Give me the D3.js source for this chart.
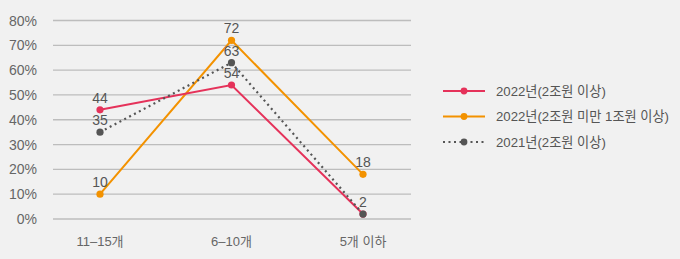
<!DOCTYPE html>
<html>
<head>
<meta charset="utf-8">
<script src="https://cdn.jsdelivr.net/npm/d3@7"></script>
<style>
  body { margin: 0; background: #f1f1f1; }
  text { font-family: "Liberation Sans", "Noto Sans CJK KR", sans-serif; }
</style>
</head>
<body>
<div id="chart"></div>
<script>
var categories = ["11–15개", "6–10개", "5개 이하"];
var seriesNames = ["2022년(2조원 이상)", "2022년(2조원 미만 1조원 이상)", "2021년(2조원 이상)"];
var red2022 = [44, 54, 2];
var orange2022 = [10, 72, 18];
var gray2021 = [35, 63, 2];
var yTicks = [0, 10, 20, 30, 40, 50, 60, 70, 80];

var width = 680, height = 259;

var series = [
    { name: seriesNames[1], values: orange2022, color: "#f39200", dash: null, labelDy: -7 },
    { name: seriesNames[0], values: red2022, color: "#e5325a", dash: null, labelDy: -7 },
    { name: seriesNames[2], values: gray2021, color: "#555555", dash: "2,3.5", labelDy: -7 }
];

var svg = d3.select("#chart")
    .append("svg")
    .attr("width", width)
    .attr("height", height)
    .style("background", "#f1f1f1");

var x = d3.scalePoint()
    .domain(categories)
    .range([100, 363]);

var y = d3.scaleLinear()
    .domain([0, 80])
    .range([219, 20.5]);

// grid lines
svg.append("g").selectAll("line")
    .data(yTicks)
    .enter().append("line")
    .attr("x1", 53)
    .attr("x2", 411)
    .attr("y1", function(d) { return y(d); })
    .attr("y2", function(d) { return y(d); })
    .attr("stroke", "#bdbdbd")
    .attr("stroke-width", 1.3);

// y axis labels
svg.append("g").selectAll("text")
    .data(yTicks)
    .enter().append("text")
    .attr("x", 37)
    .attr("y", function(d) { return y(d); })
    .attr("dy", "0.36em")
    .attr("text-anchor", "end")
    .attr("fill", "#666")
    .style("font-size", "14px")
    .text(function(d) { return d + "%"; });

// x axis labels
svg.append("g").selectAll("text")
    .data(categories)
    .enter().append("text")
    .attr("x", function(d) { return x(d); })
    .attr("y", 246)
    .attr("text-anchor", "middle")
    .attr("fill", "#666")
    .style("font-size", "13px")
    .text(function(d) { return d; });

var line = d3.line()
    .x(function(d, i) { return x(categories[i]); })
    .y(function(d) { return y(d); });

series.forEach(function(s) {
    var g = svg.append("g");
    g.append("path")
        .datum(s.values)
        .attr("d", line)
        .attr("fill", "none")
        .attr("stroke", s.color)
        .attr("stroke-width", s.dash ? 2.2 : 2)
        .attr("stroke-dasharray", s.dash);
    g.selectAll("circle")
        .data(s.values)
        .enter().append("circle")
        .attr("cx", function(d, i) { return x(categories[i]); })
        .attr("cy", function(d) { return y(d); })
        .attr("r", 3.6)
        .attr("fill", s.color);
});

// value labels (gray on top)
series.forEach(function(s) {
    svg.append("g").selectAll("text")
        .data(s.values)
        .enter().append("text")
        .attr("x", function(d, i) { return x(categories[i]); })
        .attr("y", function(d) { return y(d) + s.labelDy; })
        .attr("text-anchor", "middle")
        .attr("fill", "#555")
        .style("font-size", "14px")
        .text(function(d, i) {
            // red endpoint label is hidden behind gray one
            if (s.values === red2022 && i === 2) return "";
            return d;
        });
});

// legend
var legendOrder = [series[1], series[0], series[2]];
var legend = svg.append("g").selectAll("g")
    .data(legendOrder)
    .enter().append("g")
    .attr("transform", function(d, i) { return "translate(0," + (91 + i * 25.5) + ")"; });

legend.append("line")
    .attr("x1", 443)
    .attr("x2", 485)
    .attr("stroke", function(d) { return d.color; })
    .attr("stroke-width", function(d) { return d.dash ? 2.2 : 2; })
    .attr("stroke-dasharray", function(d) { return d.dash; });

legend.append("circle")
    .attr("cx", 464)
    .attr("r", 3.4)
    .attr("fill", function(d) { return d.color; });

legend.append("text")
    .attr("x", 496)
    .attr("dy", "0.36em")
    .attr("fill", "#555")
    .style("font-size", "13.2px")
    .text(function(d) { return d.name; });
</script>
</body>
</html>
